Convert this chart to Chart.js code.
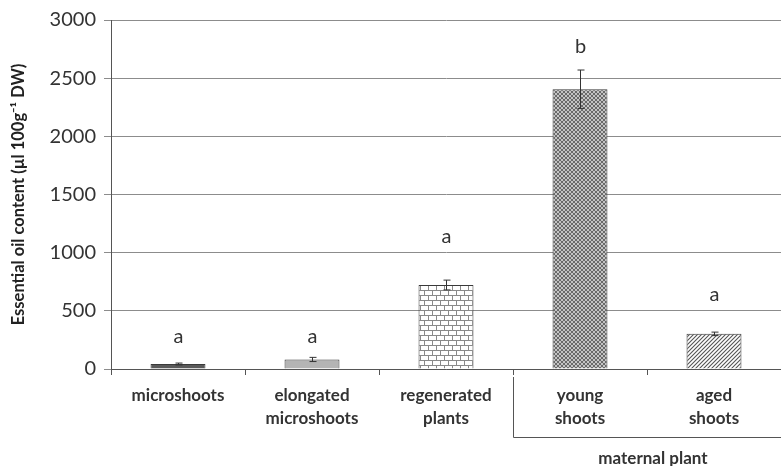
<!DOCTYPE html>
<html>
<head>
<meta charset="utf-8">
<script src="https://cdn.jsdelivr.net/npm/chart.js@4"></script>
<style>
  html, body { margin: 0; padding: 0; background: #fff; }
  #wrap { width: 781px; height: 466px; }
</style>
</head>
<body>
<div id="wrap"><canvas id="myChart" width="781" height="466"></canvas></div>
<script>
// Data
var categories = [['microshoots'], ['elongated', 'microshoots'], ['regenerated', 'plants'], ['young', 'shoots'], ['aged', 'shoots']];
var oilContent = [43, 82, 722, 2405, 302];
var oilError = [8, 18, 42, 165, 15];
var letters = ['a', 'a', 'a', 'b', 'a'];
var letterPos = [280, 280, 1140, 2775, 640];
var yTicks = [0, 500, 1000, 1500, 2000, 2500, 3000];

// Fill patterns
function makePattern(w, h, draw) {
  var c = document.createElement('canvas');
  c.width = w; c.height = h;
  var g = c.getContext('2d');
  draw(g);
  return document.getElementById('myChart').getContext('2d').createPattern(c, 'repeat');
}

var brick = makePattern(8, 10, function(g) {
  g.fillStyle = '#fff'; g.fillRect(0, 0, 8, 10);
  g.strokeStyle = '#8a8a8a'; g.lineWidth = 1;
  g.beginPath();
  g.moveTo(0, 0.5); g.lineTo(8, 0.5);
  g.moveTo(0, 5.5); g.lineTo(8, 5.5);
  g.moveTo(0.5, 0); g.lineTo(0.5, 5);
  g.moveTo(4.5, 5); g.lineTo(4.5, 10);
  g.stroke();
});

var crossDots = makePattern(4, 4, function(g) {
  g.fillStyle = '#c4c4c4'; g.fillRect(0, 0, 4, 4);
  g.fillStyle = '#6a6a6a';
  [[0, 0], [1, 1], [2, 2], [3, 3], [3, 0], [2, 1], [1, 2], [0, 3]].forEach(function(p) {
    g.fillRect(p[0], p[1], 1, 1);
  });
});

var hatch = makePattern(4, 4, function(g) {
  g.fillStyle = '#fff'; g.fillRect(0, 0, 4, 4);
  g.strokeStyle = '#555'; g.lineWidth = 1.1;
  g.beginPath();
  g.moveTo(-1, 5); g.lineTo(5, -1);
  g.moveTo(-1, 1); g.lineTo(1, -1);
  g.moveTo(3, 5); g.lineTo(5, 3);
  g.stroke();
});

var fills = ['#5a5a5a', '#b4b4b4', brick, crossDots, hatch];

// error bars, significance letters and the "maternal plant" bracket
var extras = {
  id: 'extras',
  afterDatasetsDraw: function(chart) {
    var ctx = chart.ctx, x = chart.scales.x, y = chart.scales.y;
    ctx.save();
    ctx.strokeStyle = '#333';
    ctx.lineWidth = 1;
    for (var i = 0; i < oilContent.length; i++) {
      var px = Math.round(x.getPixelForValue(i)) + 0.5;
      var top = y.getPixelForValue(oilContent[i] + oilError[i]);
      var bot = y.getPixelForValue(oilContent[i] - oilError[i]);
      ctx.beginPath();
      ctx.moveTo(px, top); ctx.lineTo(px, bot);
      ctx.moveTo(px - 3, top); ctx.lineTo(px + 4, top);
      ctx.moveTo(px - 3, bot); ctx.lineTo(px + 4, bot);
      ctx.stroke();

      ctx.fillStyle = '#333';
      ctx.font = '20px Lato';
      ctx.textAlign = 'center';
      ctx.textBaseline = 'middle';
      ctx.fillText(letters[i], px, y.getPixelForValue(letterPos[i]));
    }

    // bracket under the maternal plant groups
    var half = (x.getPixelForValue(1) - x.getPixelForValue(0)) / 2;
    var bx = Math.round(x.getPixelForValue(3) - half) + 0.5;
    ctx.strokeStyle = '#555';
    ctx.beginPath();
    ctx.moveTo(bx, y.bottom + 8);
    ctx.lineTo(bx, 437.5);
    ctx.lineTo(chart.width, 437.5);
    ctx.stroke();
    ctx.fillStyle = '#333';
    ctx.font = 'bold 17px Lato';
    ctx.textAlign = 'center';
    ctx.fillText('maternal plant', x.getPixelForValue(3) + half + 6, 459);
    ctx.restore();
  }
};

var ctx = document.getElementById('myChart').getContext('2d');
var myChart = new Chart(ctx, {
  type: 'bar',
  data: {
    labels: categories,
    datasets: [{
      data: oilContent,
      backgroundColor: fills,
      borderColor: '#3a3a3a',
      borderWidth: 1,
      borderSkipped: 'bottom',
      barPercentage: 0.41,
      categoryPercentage: 1
    }]
  },
  options: {
    responsive: false,
    animation: false,
    layout: { padding: { top: 15, right: 0, left: 0, bottom: 0 } },
    plugins: { legend: { display: false }, tooltip: { enabled: false } },
    scales: {
      x: {
        grid: { drawOnChartArea: false, color: '#555', tickLength: 6, offset: true },
        border: { color: '#555' },
        ticks: { color: '#333', font: { family: 'Lato', size: 17, weight: 'bold', lineHeight: 1.35 }, padding: 9, maxRotation: 0, autoSkip: false },
        afterFit: function(s) { s.height = 97; }
      },
      y: {
        min: 0, max: 3000,
        afterBuildTicks: function(s) { s.ticks = yTicks.map(function(v) { return { value: v }; }); },
        grid: { color: '#8c8c8c', tickLength: 7 },
        border: { color: '#555' },
        ticks: { color: '#333', font: { family: 'Lato', size: 20 }, padding: 8, callback: function(v) { return String(v); } },
        title: {
          display: true,
          text: 'Essential oil content (µl 100g⁻¹ DW)',
          color: '#222',
          font: { family: 'Lato', size: 16.5, weight: 'bold' },
          padding: { top: 9, bottom: 0 }
        },
        afterFit: function(s) { s.width = 111; }
      }
    }
  },
  plugins: [extras]
});
</script>
</body>
</html>
